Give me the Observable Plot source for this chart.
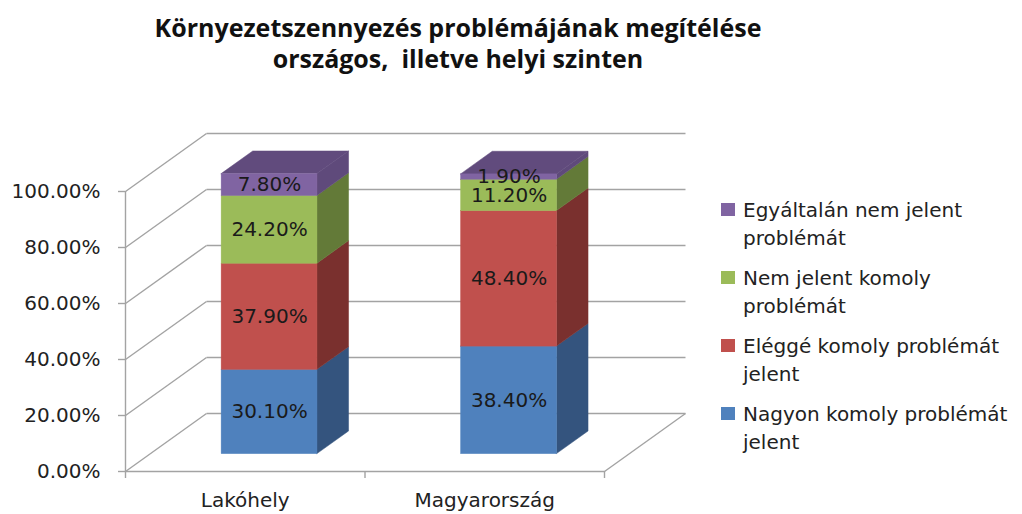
<!DOCTYPE html>
<html>
<head>
<meta charset="utf-8">
<script src="https://cdn.jsdelivr.net/npm/d3@7"></script>
<script src="https://cdn.jsdelivr.net/npm/@observablehq/plot@0.6"></script>
<style>
  html, body { margin: 0; padding: 0; background: #fff; }
  #wrap { position: relative; width: 1022px; height: 514px; overflow: hidden; }
  #title { position: absolute; left: 0; top: 12px; width: 916px; text-align: center;
    font-family: "Open Sans", sans-serif; font-weight: bold; font-size: 25px; line-height: 31px; color: #111; }
  #chart { position: absolute; left: 0; top: 0; }
  #legend { position: absolute; left: 721px; top: 196px; font-family: "DejaVu Sans", sans-serif;
    font-size: 20px; line-height: 28px; color: #222; }
  .item { display: flex; align-items: flex-start; margin-bottom: 12px; }
  .sw { width: 14px; height: 13px; margin-top: 7px; margin-right: 8px; flex: none; }
  .lab { width: 278px; }
</style>
</head>
<body>
<div id="wrap">
  <div id="chart"></div>
  <div id="title">Környezetszennyezés problémájának megítélése<br>országos,&nbsp; illetve helyi szinten</div>
  <div id="legend"></div>
</div>
<script>
// ---- data ----
const categories = ["Lakóhely", "Magyarország"];
const seriesNames = [
  "Nagyon komoly problémát jelent",
  "Eléggé komoly problémát jelent",
  "Nem jelent komoly problémát",
  "Egyáltalán nem jelent problémát"
];
const nagyonKomoly = [30.1, 38.4];
const eleggeKomoly = [37.9, 48.4];
const nemKomoly = [24.2, 11.2];
const egyaltalanNem = [7.8, 1.9];
const yTicks = [0, 20, 40, 60, 80, 100];

// ---- styles ----
const frontColors = ["#4F81BD", "#C0504D", "#9BBB59", "#8064A2"];
const sideColors = ["#34547E", "#7A302E", "#637A38", "#5F4A7B"];
const topColors = ["#4470A8", "#A84441", "#86A34A", "#614B7D"];
const gridColor = "#a3a3a3";

// ---- geometry (3D projection) ----
const W = 1022, H = 514;
const mL = 125, mR = 418, mT = 191, mB = 43;
const pxPerX = (W - mL - mR) / 2;        // px per category unit
const pxPerY = (H - mT - mB) / 100;      // px per percent
const DX = 81, DY = 58;                  // depth offset of the back wall in px
const ddx = DX / pxPerX, ddy = DY / pxPerY;
const f0 = 0.3, f1 = 0.69;               // depth fractions of bar front/back
const halfW = 0.2;

const seriesValues = [nagyonKomoly, eleggeKomoly, nemKomoly, egyaltalanNem];
const rows = [];
categories.forEach((c, i) => {
  let acc = 0;
  seriesValues.forEach((vals, s) => {
    const v = vals[i];
    rows.push({i, s, y1: acc, y2: acc + v, value: v, top: s === seriesValues.length - 1});
    acc += v;
  });
});

const sidePts = [];
rows.forEach((r, k) => {
  [f0, f1].forEach(f => sidePts.push({
    id: k, s: r.s,
    x: r.i + 0.5 + halfW + f * ddx,
    y1: r.y1 + f * ddy, y2: r.y2 + f * ddy
  }));
});
const topPts = [];
rows.filter(r => r.top).forEach((r, k) => {
  [f0, f1].forEach(f => topPts.push({
    id: k, s: r.s,
    y: r.y2 + f * ddy,
    x1: r.i + 0.5 - halfW + f * ddx,
    x2: r.i + 0.5 + halfW + f * ddx
  }));
});

const plot = Plot.plot({
  width: W, height: H,
  marginLeft: mL, marginRight: mR, marginTop: mT, marginBottom: mB,
  style: {fontFamily: "DejaVu Sans, sans-serif", fontSize: "20px", background: "white", overflow: "visible"},
  x: {domain: [0, 2], axis: null},
  y: {domain: [0, 100], axis: null},
  color: {type: "identity"},
  marks: [
    // back wall gridlines
    Plot.link(yTicks, {x1: ddx, x2: 2 + ddx, y1: v => v + ddy, y2: v => v + ddy, stroke: gridColor, strokeWidth: 1.4}),
    // side wall diagonals
    Plot.link(yTicks, {x1: 0, y1: v => v, x2: ddx, y2: v => v + ddy, stroke: gridColor, strokeWidth: 1.4}),
    // floor front edge and right diagonal
    Plot.link([0], {x1: 0, x2: 2, y1: 0, y2: 0, stroke: gridColor, strokeWidth: 1.4}),
    Plot.link([0], {x1: 2, y1: 0, x2: 2 + ddx, y2: ddy, stroke: gridColor, strokeWidth: 1.4}),
    // vertical axis line
    Plot.ruleX([0], {y1: 0, y2: 100, stroke: gridColor, strokeWidth: 1.4}),
    Plot.axisY(yTicks, {tickSize: 7, tickPadding: 18, stroke: gridColor, strokeWidth: 1.4, fill: "#222",
      tickFormat: d => d.toFixed(2) + "%", fontSize: 20}),
    Plot.axisX([0, 1, 2], {tickSize: 7, stroke: gridColor, strokeWidth: 1.4, tickFormat: () => ""}),
    Plot.axisX([0.5, 1.5], {tickSize: 0, tickPadding: 21, fill: "#222", fontSize: 20,
      tickFormat: d => categories[Math.floor(d)]}),
    // bar side faces
    Plot.areaY(sidePts, {x: "x", y1: "y1", y2: "y2", z: "id", fill: d => sideColors[d.s], stroke: d => sideColors[d.s], strokeWidth: 0.5}),
    // bar top faces
    Plot.areaX(topPts, {y: "y", x1: "x1", x2: "x2", z: "id", fill: d => topColors[d.s], stroke: d => topColors[d.s], strokeWidth: 0.5}),
    // bar front faces
    Plot.rect(rows, {
      x1: d => d.i + 0.5 - halfW + f0 * ddx, x2: d => d.i + 0.5 + halfW + f0 * ddx,
      y1: d => d.y1 + f0 * ddy, y2: d => d.y2 + f0 * ddy,
      fill: d => frontColors[d.s], stroke: d => frontColors[d.s], strokeWidth: 0.5
    }),
    // value labels
    Plot.text(rows, {
      x: d => d.i + 0.5 + f0 * ddx, y: d => (d.y1 + d.y2) / 2 + f0 * ddy,
      text: d => d.value.toFixed(2) + "%", fill: "#1a1a1a", fontSize: 20
    })
  ]
});
document.getElementById("chart").appendChild(plot);

// legend (top to bottom: last series first)
const legend = document.getElementById("legend");
seriesNames.map((n, s) => ({n, s})).reverse().forEach(({n, s}) => {
  const item = document.createElement("div");
  item.className = "item";
  const sw = document.createElement("div");
  sw.className = "sw";
  sw.style.background = frontColors[s];
  const lab = document.createElement("div");
  lab.className = "lab";
  lab.textContent = n;
  item.appendChild(sw);
  item.appendChild(lab);
  legend.appendChild(item);
});
</script>
</body>
</html>
